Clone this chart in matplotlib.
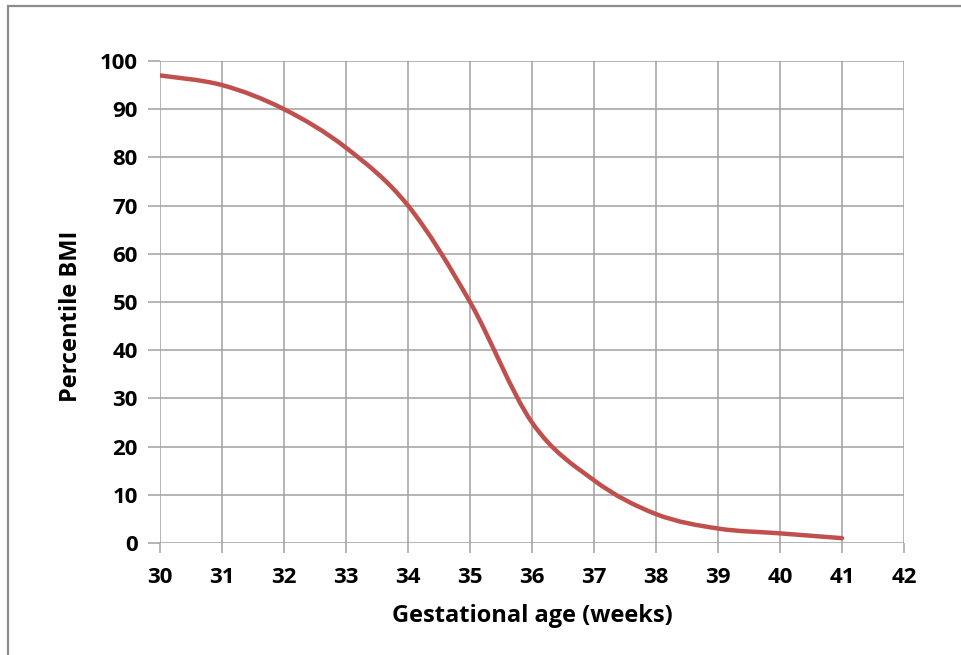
import matplotlib
matplotlib.use("Agg")
import matplotlib.pyplot as plt
from matplotlib.path import Path
from matplotlib.patches import PathPatch, Rectangle

weeks = [30, 31, 32, 33, 34, 35, 36, 37, 38, 39, 40, 41]
percentile_bmi = [97, 95, 90, 82, 70, 50, 25, 13, 6, 3, 2, 1]

plt.rcParams["font.family"] = ["Open Sans", "DejaVu Sans"]
plt.rcParams["font.weight"] = "bold"

fig = plt.figure(figsize=(9.61, 6.55), dpi=100)
ax = fig.add_axes([0.1665, 0.171, 0.7742, 0.7359])

# smoothed line, Excel style: cubic bezier with control points at 1/6 of neighbour spread
verts = [(weeks[0], percentile_bmi[0])]
codes = [Path.MOVETO]
n = len(weeks)
for i in range(n - 1):
    x0, y0 = weeks[max(i - 1, 0)], percentile_bmi[max(i - 1, 0)]
    x1, y1 = weeks[i], percentile_bmi[i]
    x2, y2 = weeks[i + 1], percentile_bmi[i + 1]
    x3, y3 = weeks[min(i + 2, n - 1)], percentile_bmi[min(i + 2, n - 1)]
    verts += [
        (x1 + (x2 - x0) / 6, y1 + (y2 - y0) / 6),
        (x2 - (x3 - x1) / 6, y2 - (y3 - y1) / 6),
        (x2, y2),
    ]
    codes += [Path.CURVE4] * 3
ax.add_patch(PathPatch(Path(verts, codes), facecolor="none", edgecolor="#C0504D",
                       lw=3.2, capstyle="round", zorder=3))

ax.set_xlim(30, 42)
ax.set_ylim(0, 100)
ax.set_xticks(range(30, 43))
ax.set_yticks(range(0, 101, 10))
ax.grid(True, color="#a0a0a0", lw=1.1)
for s in ax.spines.values():
    s.set_visible(False)
ax.tick_params(axis="both", color="#a0a0a0", width=1.1, labelsize=16)
ax.tick_params(axis="x", length=7, pad=10)
ax.tick_params(axis="y", length=9, pad=7)
ax.set_xlabel("Gestational age (weeks)", fontsize=17, fontweight="bold", labelpad=12)
ax.set_ylabel("Percentile BMI", fontsize=17, fontweight="bold", labelpad=12)
ax.yaxis.label.set_y(0.471)

# chart frame
fig.patches.append(Rectangle((8 / 961, -0.1), 1.2, 1 - 6 / 655 + 0.1, transform=fig.transFigure,
                             fill=False, edgecolor="#8c8c8c", lw=1.6))

fig.savefig("out.png", dpi=100)
